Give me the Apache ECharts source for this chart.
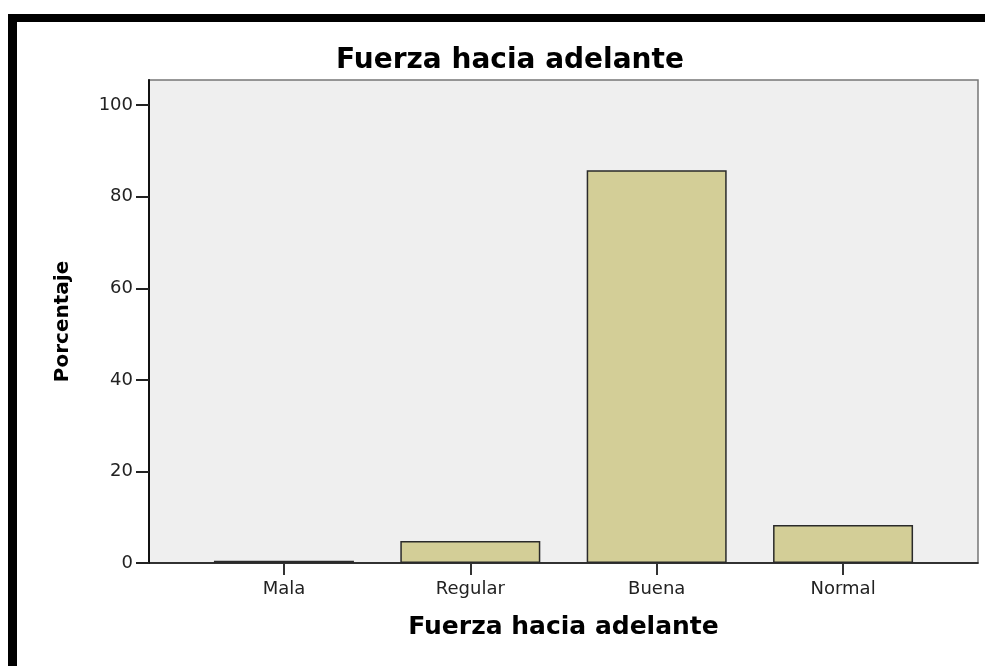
<!DOCTYPE html>
<html>
<head>
<meta charset="utf-8">
<script src="https://cdn.jsdelivr.net/npm/echarts@6/dist/echarts.min.js"></script>
<style>
  html, body { margin: 0; padding: 0; background: #fff; }
  #chart { width: 985px; height: 666px; }
</style>
</head>
<body>
<div id="chart"></div>
<script>
// data
const categories = ['Mala', 'Regular', 'Buena', 'Normal'];
const porcentaje = [0.5, 4.8, 85.8, 8.3];
const yTicks = [0, 20, 40, 60, 80, 100];

const chart = echarts.init(document.getElementById('chart'));

const option = {
  backgroundColor: '#ffffff',
  animation: false,
  title: {
    text: 'Fuerza hacia adelante',
    left: 505,
    top: 42,
    textAlign: 'center',
    textStyle: {
      fontFamily: 'DejaVu Sans',
      fontWeight: 'bold',
      fontSize: 28,
      color: '#000'
    }
  },
  // the black frame around the figure (top and left edges only, rest is cropped)
  graphic: [
    { type: 'rect', shape: { x: 8, y: 14, width: 977, height: 8 }, style: { fill: '#000' } },
    { type: 'rect', shape: { x: 8, y: 14, width: 9, height: 652 }, style: { fill: '#000' } }
  ],
  grid: {
    left: 149,
    right: 7,
    top: 80,
    bottom: 103,
    show: true,
    backgroundColor: '#efefef',
    borderColor: '#777',
    borderWidth: 1.5
  },
  xAxis: {
    type: 'value',
    min: -0.724,
    max: 3.724,
    splitLine: { show: false },
    axisLine: { show: true, onZero: false, lineStyle: { color: '#111', width: 1.5 } },
    axisTick: {
      show: true,
      length: 12,
      customValues: [0, 1, 2, 3],
      lineStyle: { color: '#333', width: 2 }
    },
    axisLabel: {
      customValues: [0, 1, 2, 3],
      formatter: function (v) { return categories[Math.round(v)]; },
      margin: 17,
      fontFamily: 'DejaVu Sans',
      fontSize: 18,
      color: '#222'
    },
    name: 'Fuerza hacia adelante',
    nameLocation: 'middle',
    nameGap: 52,
    nameTextStyle: {
      fontFamily: 'DejaVu Sans',
      fontWeight: 'bold',
      fontSize: 25,
      color: '#000'
    }
  },
  yAxis: {
    type: 'value',
    min: 0,
    max: 105.5,
    splitLine: { show: false },
    axisLine: { show: true, onZero: false, lineStyle: { color: '#111', width: 2 } },
    axisTick: {
      show: true,
      length: 13,
      customValues: yTicks,
      lineStyle: { color: '#222', width: 2 }
    },
    axisLabel: {
      customValues: yTicks,
      margin: 16,
      fontFamily: 'DejaVu Sans',
      fontSize: 18,
      color: '#222'
    },
    name: 'Porcentaje',
    nameLocation: 'middle',
    nameGap: 76,
    nameTextStyle: {
      fontFamily: 'DejaVu Sans',
      fontWeight: 'bold',
      fontSize: 20,
      color: '#000'
    }
  },
  series: [{
    type: 'bar',
    barWidth: 140,
    data: porcentaje.map(function (v, i) { return [i, v]; }),
    itemStyle: {
      color: '#d3ce97',
      borderColor: '#2a2a2a',
      borderWidth: 1.5
    }
  }]
};

chart.setOption(option);
window.addEventListener('resize', function () {
  chart.resize();
});
</script>
</body>
</html>
